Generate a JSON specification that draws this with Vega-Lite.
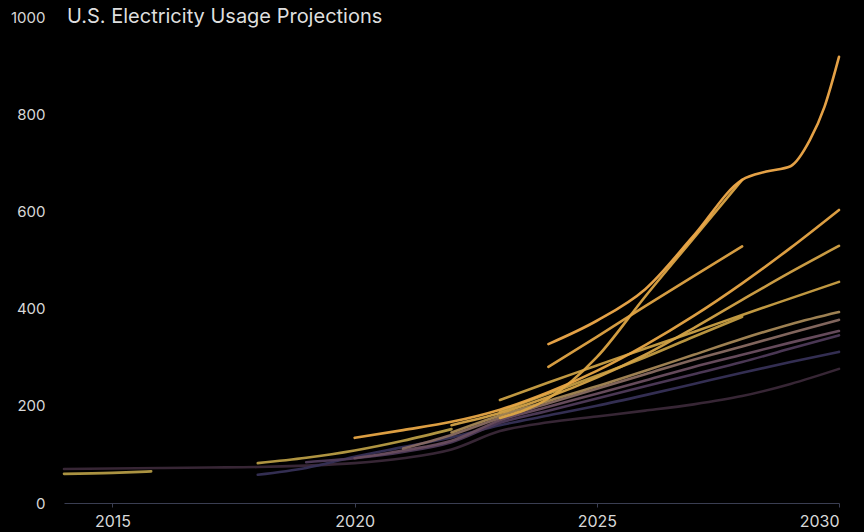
{
  "$schema": "https://vega.github.io/schema/vega-lite/v6.json",
  "width": 775,
  "height": 486,
  "autosize": {"type": "none"},
  "padding": {"left": 64, "top": 17, "right": 25, "bottom": 29},
  "background": "#000000",
  "title": {
    "text": "U.S. Electricity Usage Projections",
    "anchor": "start",
    "frame": "group",
    "orient": "top",
    "baseline": "middle",
    "offset": 0,
    "dx": 3,
    "dy": 27,
    "font": "Inter",
    "fontSize": 20,
    "fontWeight": "normal",
    "color": "#dedede"
  },
  "config": {
    "view": {"stroke": null},
    "font": "Inter"
  },
  "data": {
    "values": [
      {"s": "v00", "x": 2014, "v": 60}, {"s": "v00", "x": 2015, "v": 62}, {"s": "v00", "x": 2015.8, "v": 65},
      {"s": "v01", "x": 2014, "v": 70}, {"s": "v01", "x": 2015, "v": 71}, {"s": "v01", "x": 2016, "v": 72}, {"s": "v01", "x": 2017, "v": 73}, {"s": "v01", "x": 2018, "v": 74}, {"s": "v01", "x": 2019, "v": 77}, {"s": "v01", "x": 2020, "v": 82}, {"s": "v01", "x": 2021, "v": 92}, {"s": "v01", "x": 2022, "v": 110}, {"s": "v01", "x": 2023, "v": 148}, {"s": "v01", "x": 2024, "v": 166}, {"s": "v01", "x": 2025, "v": 178}, {"s": "v01", "x": 2026, "v": 190}, {"s": "v01", "x": 2027, "v": 203}, {"s": "v01", "x": 2028, "v": 220}, {"s": "v01", "x": 2029, "v": 245}, {"s": "v01", "x": 2030, "v": 276},
      {"s": "v02", "x": 2018, "v": 58}, {"s": "v02", "x": 2019, "v": 72}, {"s": "v02", "x": 2020, "v": 95}, {"s": "v02", "x": 2021, "v": 115}, {"s": "v02", "x": 2022, "v": 135}, {"s": "v02", "x": 2023, "v": 160}, {"s": "v02", "x": 2024, "v": 180}, {"s": "v02", "x": 2025, "v": 200}, {"s": "v02", "x": 2026, "v": 222}, {"s": "v02", "x": 2027, "v": 245}, {"s": "v02", "x": 2028, "v": 268}, {"s": "v02", "x": 2029, "v": 290}, {"s": "v02", "x": 2030, "v": 311},
      {"s": "v03", "x": 2019, "v": 84}, {"s": "v03", "x": 2020, "v": 92}, {"s": "v03", "x": 2021, "v": 105}, {"s": "v03", "x": 2022, "v": 125}, {"s": "v03", "x": 2023, "v": 165}, {"s": "v03", "x": 2024, "v": 190}, {"s": "v03", "x": 2025, "v": 215}, {"s": "v03", "x": 2026, "v": 240}, {"s": "v03", "x": 2027, "v": 265}, {"s": "v03", "x": 2028, "v": 290}, {"s": "v03", "x": 2029, "v": 318}, {"s": "v03", "x": 2030, "v": 345},
      {"s": "v04", "x": 2020, "v": 92}, {"s": "v04", "x": 2021, "v": 108}, {"s": "v04", "x": 2022, "v": 128}, {"s": "v04", "x": 2023, "v": 170}, {"s": "v04", "x": 2024, "v": 198}, {"s": "v04", "x": 2025, "v": 225}, {"s": "v04", "x": 2026, "v": 252}, {"s": "v04", "x": 2027, "v": 280}, {"s": "v04", "x": 2028, "v": 305}, {"s": "v04", "x": 2029, "v": 330}, {"s": "v04", "x": 2030, "v": 354},
      {"s": "v05", "x": 2021, "v": 112}, {"s": "v05", "x": 2022, "v": 140}, {"s": "v05", "x": 2023, "v": 175}, {"s": "v05", "x": 2024, "v": 205}, {"s": "v05", "x": 2025, "v": 235}, {"s": "v05", "x": 2026, "v": 265}, {"s": "v05", "x": 2027, "v": 295}, {"s": "v05", "x": 2028, "v": 322}, {"s": "v05", "x": 2029, "v": 350}, {"s": "v05", "x": 2030, "v": 377},
      {"s": "v06", "x": 2022, "v": 145}, {"s": "v06", "x": 2023, "v": 180}, {"s": "v06", "x": 2024, "v": 210}, {"s": "v06", "x": 2025, "v": 240}, {"s": "v06", "x": 2026, "v": 272}, {"s": "v06", "x": 2027, "v": 305}, {"s": "v06", "x": 2028, "v": 338}, {"s": "v06", "x": 2029, "v": 368}, {"s": "v06", "x": 2030, "v": 393},
      {"s": "v07", "x": 2018, "v": 82}, {"s": "v07", "x": 2019, "v": 93}, {"s": "v07", "x": 2020, "v": 108}, {"s": "v07", "x": 2021, "v": 128}, {"s": "v07", "x": 2022, "v": 152},
      {"s": "v08", "x": 2023, "v": 188}, {"s": "v08", "x": 2024, "v": 225}, {"s": "v08", "x": 2025, "v": 262}, {"s": "v08", "x": 2026, "v": 300}, {"s": "v08", "x": 2027, "v": 342}, {"s": "v08", "x": 2028, "v": 383},
      {"s": "v09", "x": 2023, "v": 212}, {"s": "v09", "x": 2024, "v": 248}, {"s": "v09", "x": 2025, "v": 283}, {"s": "v09", "x": 2026, "v": 318}, {"s": "v09", "x": 2027, "v": 352}, {"s": "v09", "x": 2028, "v": 387}, {"s": "v09", "x": 2029, "v": 421}, {"s": "v09", "x": 2030, "v": 455},
      {"s": "v10", "x": 2022, "v": 160}, {"s": "v10", "x": 2023, "v": 185}, {"s": "v10", "x": 2024, "v": 218}, {"s": "v10", "x": 2025, "v": 258}, {"s": "v10", "x": 2026, "v": 305}, {"s": "v10", "x": 2027, "v": 360}, {"s": "v10", "x": 2028, "v": 418}, {"s": "v10", "x": 2029, "v": 475}, {"s": "v10", "x": 2030, "v": 529},
      {"s": "v11", "x": 2023, "v": 175}, {"s": "v11", "x": 2024, "v": 215}, {"s": "v11", "x": 2025, "v": 300}, {"s": "v11", "x": 2026, "v": 425}, {"s": "v11", "x": 2027, "v": 545}, {"s": "v11", "x": 2028, "v": 665},
      {"s": "v12", "x": 2024, "v": 280}, {"s": "v12", "x": 2025, "v": 342}, {"s": "v12", "x": 2026, "v": 405}, {"s": "v12", "x": 2027, "v": 467}, {"s": "v12", "x": 2028, "v": 528},
      {"s": "v13", "x": 2020, "v": 134}, {"s": "v13", "x": 2021, "v": 150}, {"s": "v13", "x": 2022, "v": 167}, {"s": "v13", "x": 2023, "v": 192}, {"s": "v13", "x": 2024, "v": 228}, {"s": "v13", "x": 2025, "v": 272}, {"s": "v13", "x": 2026, "v": 325}, {"s": "v13", "x": 2027, "v": 385}, {"s": "v13", "x": 2028, "v": 452}, {"s": "v13", "x": 2029, "v": 525}, {"s": "v13", "x": 2030, "v": 603},
      {"s": "v14", "x": 2024, "v": 327}, {"s": "v14", "x": 2025, "v": 375}, {"s": "v14", "x": 2026, "v": 440}, {"s": "v14", "x": 2027, "v": 550}, {"s": "v14", "x": 2028, "v": 665}, {"s": "v14", "x": 2028.5, "v": 682}, {"s": "v14", "x": 2029, "v": 693}, {"s": "v14", "x": 2029.4, "v": 747}, {"s": "v14", "x": 2029.7, "v": 815}, {"s": "v14", "x": 2030, "v": 918}
    ]
  },
  "mark": {"type": "line", "interpolate": "monotone", "strokeWidth": 2.6, "strokeCap": "round", "opacity": 0.95},
  "encoding": {
    "x": {
      "field": "x", "type": "quantitative",
      "scale": {"domain": [2014, 2030], "nice": false, "zero": false},
      "axis": {
        "title": null, "values": [2015, 2020, 2025, 2030], "format": "d", "grid": false,
        "domainColor": "#3a3e52", "tickColor": "#3a3e52", "tickSize": 4,
        "labelColor": "#d8d8d8", "labelFontSize": 16, "labelPadding": 6, "labelFont": "Inter"
      }
    },
    "y": {
      "field": "v", "type": "quantitative",
      "scale": {"domain": [0, 1000], "nice": false},
      "axis": {
        "title": null, "values": [0, 200, 400, 600, 800, 1000], "format": "d", "grid": false, "domain": false, "ticks": false,
        "labelColor": "#d8d8d8", "labelFontSize": 15, "labelPadding": 19, "labelFont": "Inter"
      }
    },
    "color": {
      "field": "s", "type": "nominal", "legend": null,
      "scale": {
        "domain": ["v00", "v01", "v02", "v03", "v04", "v05", "v06", "v07", "v08", "v09", "v10", "v11", "v12", "v13", "v14"],
        "range": ["#b39a45", "#3a2838", "#363056", "#4e3a58", "#6a4e60", "#886a62", "#a58756", "#b89c45", "#c29c42", "#caa044", "#d4a347", "#dca545", "#e0a444", "#e8a646", "#f0aa4a"]
      }
    },
    "order": {"field": "s"}
  }
}
